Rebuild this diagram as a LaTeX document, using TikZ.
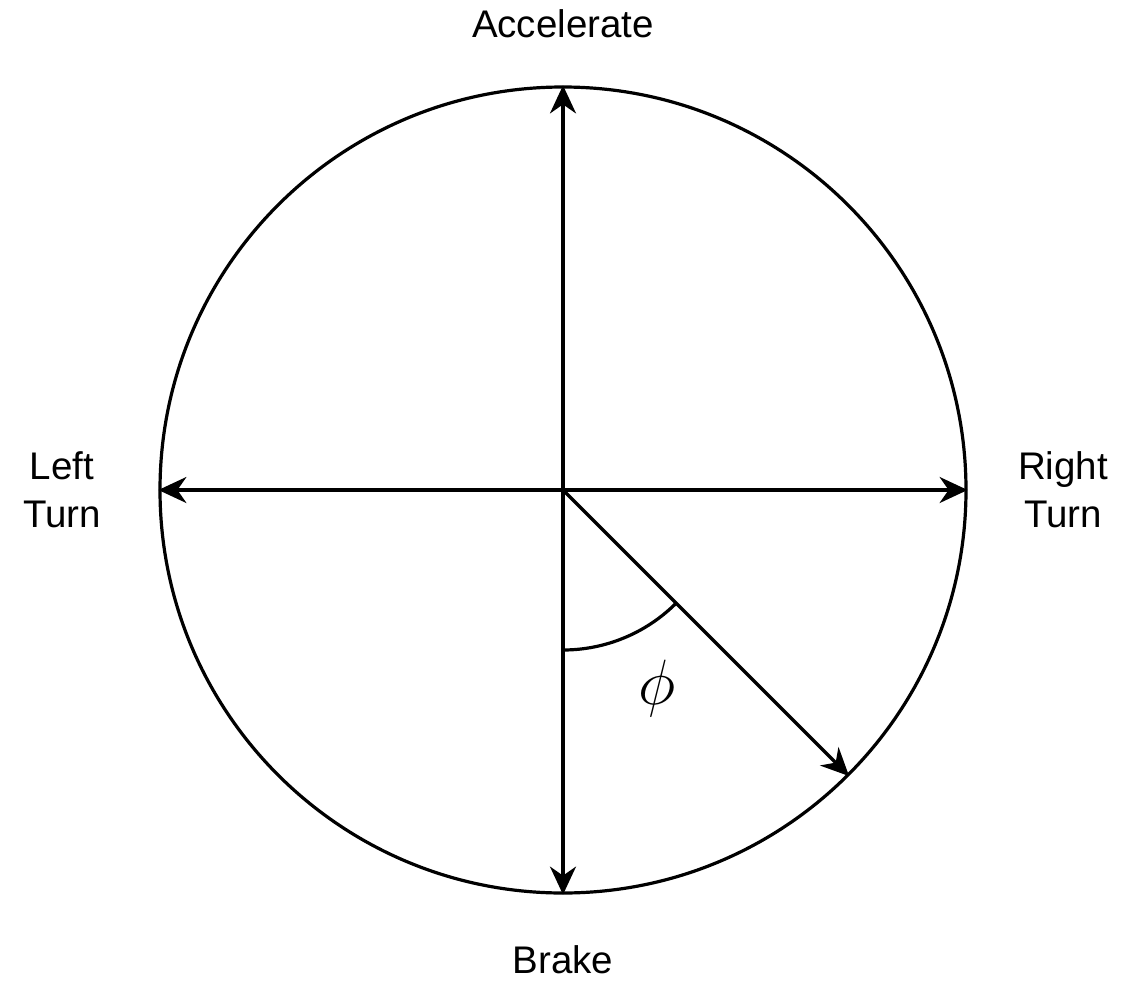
\RequirePackage{fix-cm}
\documentclass[tikz,border=0pt]{standalone}
\usepackage{fontspec}
\setmainfont{Liberation Sans}
\usetikzlibrary{arrows.meta,calc}
\begin{document}
\begin{tikzpicture}[x=1pt,y=-1pt,line width=3.2pt,
  arr/.style={-{Stealth[length=28pt,width=26pt,inset=9pt]}},
  lbl/.style={font=\fontsize{38.5}{48}\selectfont, align=center, inner sep=0pt}]
\useasboundingbox (0,0) rectangle (1140,980);
\coordinate (O) at (563,490);
\node[draw, circle, minimum size=806pt, inner sep=0pt] (C) at (O) {};
\draw[arr] (O) -- (C.north);
\draw[arr] (O) -- (C.south);
\draw[arr] (O) -- (C.west);
\draw[arr] (O) -- (C.east);
\draw[arr] (O) -- (C.south east);
\draw (O) ++(0,160) arc[start angle=90, end angle=45, radius=160];
\node[lbl, anchor=base] (acc) at (563,37) {Accelerate};
\node[lbl, anchor=base] (brk) at (563,973) {Brake};
\node[lbl] (lt) at (62,490) {Left\\Turn};
\node[lbl] (rt) at (1063,490) {Right\\Turn};
\node[inner sep=0pt, font=\fontsize{64}{76}\selectfont] (phi) at (657,688) {$\phi$};
\end{tikzpicture}
\end{document}
